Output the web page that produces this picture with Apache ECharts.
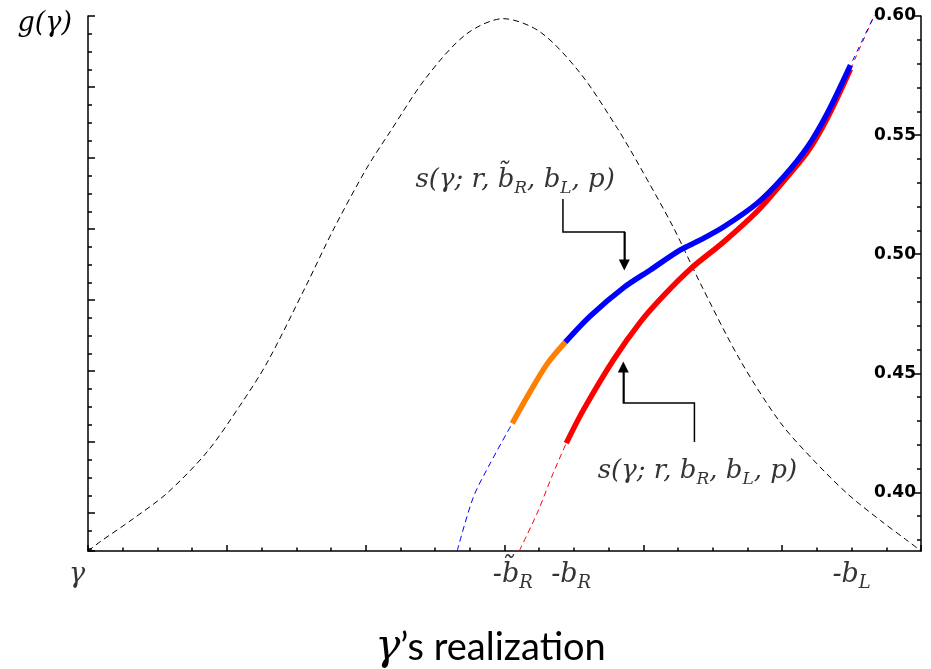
<!DOCTYPE html>
<html>
<head>
<meta charset="utf-8">
<script src="https://cdn.jsdelivr.net/npm/echarts@6/dist/echarts.min.js"></script>
<style>html,body{margin:0;padding:0;background:#fff}#c{width:931px;height:669px}</style>
</head>
<body>
<div id="c"></div>
<script>
// ---- density g(gamma) (dashed black), x in axis units 0..6, g relative height
const gammaPos = [0,0.086,0.324,0.569,0.857,1.095,1.290,1.571,1.766,2.004,2.177,2.436,2.724,2.991,3.258,3.546,3.813,3.978,4.216,4.411,4.699,4.987,5.225,5.470,5.708,5.888,6.0];
const gDensity = [0,0.017,0.060,0.108,0.185,0.272,0.352,0.496,0.600,0.714,0.784,0.885,0.966,0.995,0.970,0.893,0.790,0.717,0.605,0.500,0.356,0.240,0.170,0.107,0.057,0.022,0];

// ---- s(gamma; r, b~R, bL, p)  (right axis values)
const blueDashX = [2.659, 2.775, 2.897, 3.056];
const blueDashY = [0.3754, 0.3979, 0.4122, 0.4290];
const orangeX = [3.056, 3.164, 3.308, 3.438];
const orangeY = [0.4290, 0.4402, 0.4540, 0.4631];
const blueX = [3.438, 3.618, 3.863, 4.050, 4.267, 4.411, 4.577, 4.822, 5.009, 5.182, 5.326, 5.492];
const blueY = [0.4631, 0.4741, 0.4862, 0.4934, 0.5018, 0.5060, 0.5114, 0.5215, 0.5324, 0.5450, 0.5593, 0.5794];
const blueTailX = [5.492, 5.665];
const blueTailY = [0.5794, 0.6004];

// ---- s(gamma; r, bR, bL, p)
const redDashX = [3.106, 3.236, 3.351, 3.445];
const redDashY = [0.3754, 0.3914, 0.4081, 0.4207];
const redX = [3.445, 3.568, 3.784, 3.978, 4.144, 4.339, 4.577, 4.822, 4.987, 5.182, 5.326, 5.492];
const redY = [0.4207, 0.4346, 0.4556, 0.4715, 0.4825, 0.4938, 0.5051, 0.5181, 0.5291, 0.5429, 0.5572, 0.5777];
const redTailX = [5.492, 5.665];
const redTailY = [0.5777, 0.6004];

// ---- axes
const rightMajor = [0.40, 0.45, 0.50, 0.55, 0.60];
const rightMinor = [0.38, 0.39, 0.41, 0.42, 0.43, 0.44, 0.46, 0.47, 0.48, 0.49, 0.51, 0.52, 0.53, 0.54, 0.56, 0.57, 0.58, 0.59];
const yMin = 0.3754, yMax = 0.60;

// ---- x-axis point labels
const xLabelPos = [0, 3.06, 3.48, 5.50];
const xLabelText = ['{t|γ}', '{t|-b̃}{s|R}', '{t|-b}{s|R}', '{t|-b}{s|L}'];

// ---- annotations
const annotX = [3.077, 4.389];
const annotY = [0.5312, 0.4090];
const annotText = ['{t|s(γ; r, b̃}{s|R}{t|, b}{s|L}{t|, p)}', '{t|s(γ; r, b}{s|R}{t|, b}{s|L}{t|, p)}'];
const arrow1 = [[3.421,0.5232],[3.421,0.5093],[3.863,0.5093],[3.863,0.4955]];
const arrow2 = [[4.368,0.4212],[4.368,0.4375],[3.856,0.4375],[3.856,0.4526]];

const zip = (a, b) => a.map((v, i) => [v, b[i]]);
const serif = 'DejaVu Serif';
const richMath = (size, sub) => ({
  t: {fontFamily: serif, fontStyle: 'italic', fontSize: size, lineHeight: size + 8, color: '#000'},
  s: {fontFamily: serif, fontStyle: 'italic', fontSize: sub, lineHeight: sub - 2, verticalAlign: 'bottom', color: '#000'}
});
const curve = {smooth: 0.3, symbol: 'none'};

const chart = echarts.init(document.getElementById('c'), null, {renderer: 'canvas'});
const option = {
  animation: false,
  backgroundColor: '#fff',
  grid: {left: 88, right: 10, top: 16, bottom: 118, containLabel: false, outerBoundsMode: 'none'},
  xAxis: [{
    type: 'value', min: 0, max: 6, interval: 1,
    name: '{g|γ}{n|’s realization}', nameLocation: 'middle', nameGap: 76,
    nameTextStyle: {padding: [0, 28, 0, 0], rich: {
      g: {fontFamily: serif, fontStyle: 'italic', fontSize: 42, color: '#000'},
      n: {fontFamily: 'Lato', fontSize: 38, color: '#000'}
    }},
    axisLine: {show: true, lineStyle: {color: '#000', width: 1.5}},
    axisTick: {show: true, inside: true, length: 6, lineStyle: {color: '#000', width: 1.5}},
    minorTick: {show: true, splitNumber: 4, length: 3.5, lineStyle: {color: '#000', width: 1.5}},
    axisLabel: {show: false}, splitLine: {show: false}, minorSplitLine: {show: false}
  }],
  yAxis: [
    { // 0: g density axis (hidden lines, carries the name)
      type: 'value', min: 0, max: 1, position: 'left', show: true,
      name: 'g(γ)', nameLocation: 'end', nameGap: -8,
      nameTextStyle: {fontFamily: serif, fontStyle: 'italic', fontSize: 27, color: '#000', align: 'right', verticalAlign: 'middle', padding: [0, 16, 0, 0]},
      axisLine: {show: false}, axisTick: {show: false}, axisLabel: {show: false}, splitLine: {show: false}
    },
    { // 1: right value axis with major ticks and labels
      type: 'value', min: yMin, max: yMax, position: 'right',
      axisLine: {show: true, lineStyle: {color: '#000', width: 1.5}},
      axisTick: {show: true, inside: true, length: 7, customValues: rightMajor, lineStyle: {color: '#000', width: 1.5}},
      axisLabel: {show: true, inside: true, margin: 5, customValues: rightMajor, formatter: v => v.toFixed(2),
        fontFamily: 'DejaVu Sans', fontWeight: 'bold', fontSize: 17, color: '#000'},
      splitLine: {show: false}
    },
    { // 2: right minor ticks
      type: 'value', min: yMin, max: yMax, position: 'right',
      axisLine: {show: false},
      axisTick: {show: true, inside: true, length: 4, customValues: rightMinor, lineStyle: {color: '#000', width: 1.5}},
      axisLabel: {show: false}, splitLine: {show: false}
    },
    { // 3: left decorative tick axis
      type: 'value', min: 0, max: 7.535, interval: 1, inverse: true, position: 'left',
      axisLine: {show: true, lineStyle: {color: '#000', width: 1.5}},
      axisTick: {show: true, inside: true, length: 7, lineStyle: {color: '#000', width: 1.5}},
      minorTick: {show: true, splitNumber: 4, length: 4, lineStyle: {color: '#000', width: 1.5}},
      axisLabel: {show: false}, splitLine: {show: false}, minorSplitLine: {show: false}
    }
  ],
  series: [
    Object.assign({type: 'line', yAxisIndex: 0, data: zip(gammaPos, gDensity),
      lineStyle: {color: '#000', width: 1, type: [6, 4]}}, curve),
    Object.assign({type: 'line', yAxisIndex: 1, data: zip(blueDashX, blueDashY), clip: false,
      lineStyle: {color: '#0000ff', width: 1, type: [6, 4]}}, curve),
    Object.assign({type: 'line', yAxisIndex: 1, data: zip(redDashX, redDashY), clip: false,
      lineStyle: {color: '#ff0000', width: 1, type: [6, 4]}}, curve),
    {type: 'line', yAxisIndex: 1, data: zip(redTailX, redTailY), symbol: 'none', clip: false,
      lineStyle: {color: '#ff0000', width: 1, type: [5, 5]}},
    {type: 'line', yAxisIndex: 1, data: zip(blueTailX, blueTailY), symbol: 'none', clip: false,
      lineStyle: {color: '#0000ff', width: 1, type: [5, 5], dashOffset: 5}},
    Object.assign({type: 'line', yAxisIndex: 1, data: zip(redX, redY),
      lineStyle: {color: '#ff0000', width: 5.5, cap: 'butt'}}, curve),
    Object.assign({type: 'line', yAxisIndex: 1, data: zip(orangeX, orangeY),
      lineStyle: {color: '#ff8000', width: 5.5, cap: 'butt'}}, curve),
    Object.assign({type: 'line', yAxisIndex: 1, data: zip(blueX, blueY),
      lineStyle: {color: '#0000ff', width: 5.5, cap: 'butt'}}, curve),
    {type: 'lines', coordinateSystem: 'cartesian2d', xAxisIndex: 0, yAxisIndex: 1, polyline: true,
      lineStyle: {color: '#000', width: 1.5, opacity: 1},
      data: [{coords: arrow1}, {coords: arrow2}]},
    {type: 'lines', coordinateSystem: 'cartesian2d', xAxisIndex: 0, yAxisIndex: 1, polyline: false,
      symbol: ['none', 'triangle'], symbolSize: [10, 11],
      lineStyle: {color: '#000', width: 1.5, opacity: 1},
      data: [arrow1, arrow2].map(a => ({coords: a.slice(-2)}))},
    {type: 'scatter', yAxisIndex: 1, symbolSize: 0, clip: false, silent: true,
      data: annotX.map((x, i) => ({value: [x, annotY[i]], label: {formatter: annotText[i]}})),
      label: {show: true, position: 'inside', rich: richMath(26, 17)}},
    {type: 'scatter', yAxisIndex: 0, symbolSize: 0, clip: false, silent: true,
      data: xLabelPos.map((x, i) => ({value: [x, 0], label: {formatter: xLabelText[i], offset: i === 0 ? [-11, 0] : [0, 0]}})),
      label: {show: true, position: 'bottom', distance: 6, rich: richMath(27, 18)}}
  ]
};
chart.setOption(option);
</script>
</body>
</html>
